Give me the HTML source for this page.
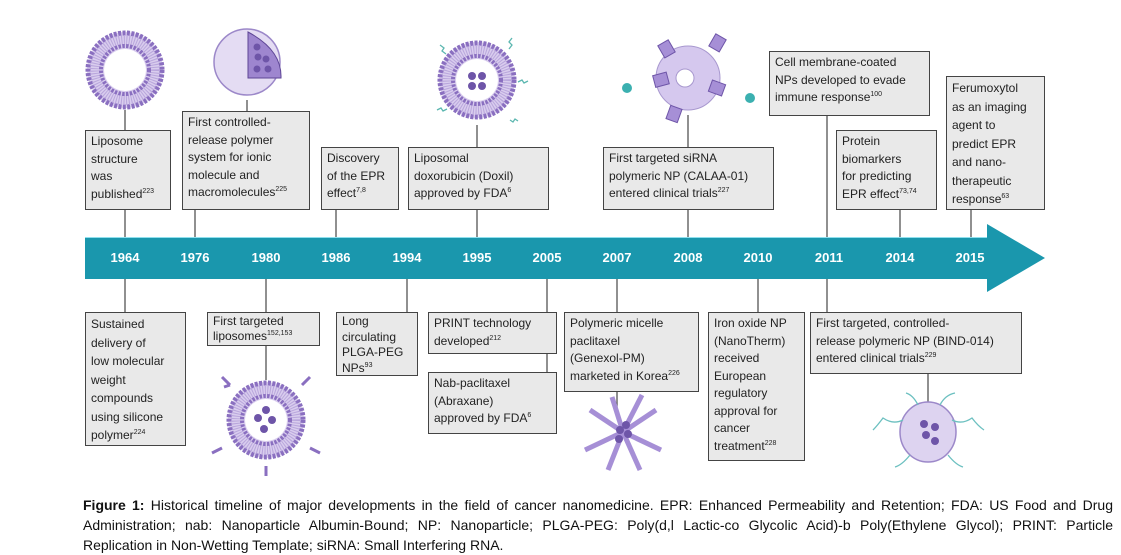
<!DOCTYPE html>
<html><head><meta charset="utf-8"><style>
body{margin:0;width:1121px;height:555px;background:#fff;position:relative;overflow:hidden;font-family:"Liberation Sans",sans-serif}
.b{position:absolute;box-sizing:border-box;background:#e9e9e9;border:1.5px solid #444;font-size:12px;line-height:17.5px;color:#222;padding:2px 5px;white-space:nowrap}
sup{font-size:7px;line-height:0}
.y{position:absolute;top:250px;color:#fff;font-weight:bold;font-size:13px;width:50px;text-align:center;margin-left:-25px}
.cap{position:absolute;left:83px;top:495px;width:1030px;font-size:14px;line-height:20px;color:#111}
.cap div{text-align:justify;text-align-last:justify;white-space:nowrap}
.cap div.l{text-align-last:left}
</style></head><body>
<svg width="1121" height="555" style="position:absolute;left:0;top:0">
<defs>
<g id="lipo">
<circle r="38" fill="#d9cdee"/>
<circle r="37" fill="none" stroke="#8a6fc0" stroke-width="5" stroke-dasharray="3 1.4"/>
<circle r="30" fill="none" stroke="#b9a6dc" stroke-width="10" stroke-dasharray="1 1.5"/>
<circle r="24" fill="none" stroke="#8a6fc0" stroke-width="4" stroke-dasharray="2.5 1.3"/>
<circle r="21" fill="#fff"/>
</g>
</defs>
<g stroke="#555" stroke-width="1.3">
<line x1="125" y1="110" x2="125" y2="237"/><line x1="195" y1="209" x2="195" y2="237"/><line x1="247" y1="100" x2="247" y2="111"/>
<line x1="336" y1="209" x2="336" y2="237"/><line x1="477" y1="125" x2="477" y2="237"/><line x1="688" y1="115" x2="688" y2="237"/>
<line x1="827" y1="115" x2="827" y2="237"/><line x1="900" y1="209" x2="900" y2="237"/><line x1="971" y1="209" x2="971" y2="237"/>
<line x1="125" y1="279" x2="125" y2="312"/><line x1="266" y1="279" x2="266" y2="380"/><line x1="407" y1="279" x2="407" y2="312"/>
<line x1="547" y1="279" x2="547" y2="372"/><line x1="617" y1="279" x2="617" y2="410"/><line x1="758" y1="279" x2="758" y2="312"/>
<line x1="827" y1="279" x2="827" y2="312"/><line x1="928" y1="373" x2="928" y2="404"/>
</g>
<polygon points="85,237 987,237 987,224 1045,258 987,292 987,279 85,279" fill="#1a97ad"/>
<line x1="85" y1="237.5" x2="987" y2="237.5" stroke="#8fe0ee" stroke-width="1"/>
<use href="#lipo" x="125" y="70"/>
<circle cx="247" cy="62" r="33" fill="#e4dcf3" stroke="#9c88c9" stroke-width="1.5"/>
<path d="M248,32 L248,78 L281,78 Q282,50 248,32Z" fill="#9e86cf" stroke="#5e4696"/>
<g fill="#6e55a8"><circle cx="257" cy="47" r="3.5"/><circle cx="258" cy="57" r="3.5"/><circle cx="266" cy="59" r="3.5"/><circle cx="257" cy="69" r="3.5"/><circle cx="268" cy="69" r="3.5"/></g>
<use href="#lipo" x="477" y="80"/>
<g fill="#6e55a8"><circle cx="472" cy="76" r="4"/><circle cx="482" cy="76" r="4"/><circle cx="472" cy="86" r="4"/><circle cx="482" cy="86" r="4"/></g>
<g stroke="#5cb7b0" fill="none" stroke-width="1.3"><path d="M440,45 l4,3 l-2,3 l4,3"/><path d="M512,38 l-3,4 l3,3 l-3,4"/><path d="M518,82 l4,-2 l2,3 l4,-2"/><path d="M437,110 l4,-2 l2,3 l4,-2"/><path d="M510,120 l3,2 l2,-3 l3,2"/></g>
<circle cx="688" cy="78" r="32" fill="#d5c8ee" stroke="#a898cf"/>
<circle cx="685" cy="78" r="9" fill="#fff" stroke="#a898cf"/>
<g fill="#a68fd6" stroke="#6e55a8"><rect x="654" y="74" width="14" height="12" transform="rotate(-15 660 80)"/><rect x="710" y="82" width="14" height="12" transform="rotate(20 717 88)"/><rect x="660" y="42" width="12" height="14" transform="rotate(-30 666 48)"/><rect x="712" y="36" width="12" height="14" transform="rotate(30 718 42)"/><rect x="668" y="107" width="12" height="14" transform="rotate(20 674 114)"/></g>
<g fill="#3bb0b0"><circle cx="627" cy="88" r="5"/><circle cx="750" cy="98" r="5"/></g>
<use href="#lipo" x="266" y="420"/>
<g fill="#6e55a8"><circle cx="266" cy="410" r="4"/><circle cx="258" cy="418" r="4"/><circle cx="272" cy="420" r="4"/><circle cx="264" cy="429" r="4"/></g>
<g stroke="#8a6fc0" stroke-width="3" fill="none"><path d="M230,385 l-8,-8 m8,8 l-6,2"/><path d="M302,385 l8,-8"/><path d="M222,448 l-10,5"/><path d="M310,448 l10,5"/><path d="M266,466 l0,10"/></g>
<g stroke="#a68fd6" stroke-width="5"><line x1="623" y1="432" x2="590" y2="410"/><line x1="623" y1="432" x2="656" y2="410"/><line x1="623" y1="432" x2="585" y2="450"/><line x1="623" y1="432" x2="661" y2="450"/><line x1="623" y1="432" x2="608" y2="470"/><line x1="623" y1="432" x2="640" y2="470"/><line x1="623" y1="432" x2="612" y2="397"/><line x1="623" y1="432" x2="642" y2="395"/></g>
<g fill="#6e55a8"><circle cx="620" cy="430" r="4"/><circle cx="628" cy="434" r="4"/><circle cx="619" cy="439" r="4"/><circle cx="626" cy="425" r="4"/></g>
<ellipse cx="928" cy="432" rx="28" ry="30" fill="#ddd3f0" stroke="#9c88c9" stroke-width="1.5"/>
<g fill="#6e55a8"><circle cx="924" cy="424" r="4"/><circle cx="935" cy="427" r="4"/><circle cx="926" cy="435" r="4"/><circle cx="935" cy="441" r="4"/></g>
<g stroke="#6cc0c0" fill="none" stroke-width="1.3"><path d="M903,420 q-10,5 -20,-2 q-6,8 -10,12"/><path d="M952,420 q10,5 20,-2 q6,8 12,12"/><path d="M910,455 q-8,10 -15,12"/><path d="M948,455 q8,10 15,12"/><path d="M918,405 q-5,-10 -12,-12"/><path d="M940,405 q5,-10 15,-12"/></g>
</svg>
<div class="b" style="left:85px;top:130px;width:86px;height:80px">Liposome<br>structure<br>was<br>published<sup>223</sup></div>
<div class="b" style="left:182px;top:111px;width:128px;height:99px">First controlled-<br>release polymer<br>system for ionic<br>molecule and<br>macromolecules<sup>225</sup></div>
<div class="b" style="left:321px;top:147px;width:78px;height:63px">Discovery<br>of the EPR<br>effect<sup>7,8</sup></div>
<div class="b" style="left:408px;top:147px;width:141px;height:63px">Liposomal<br>doxorubicin (Doxil)<br>approved by FDA<sup>6</sup></div>
<div class="b" style="left:603px;top:147px;width:171px;height:63px">First targeted siRNA<br>polymeric NP (CALAA-01)<br>entered clinical trials<sup>227</sup></div>
<div class="b" style="left:769px;top:51px;width:161px;height:65px">Cell membrane-coated<br>NPs developed to evade<br>immune response<sup>100</sup></div>
<div class="b" style="left:836px;top:130px;width:101px;height:80px">Protein<br>biomarkers<br>for predicting<br>EPR effect<sup>73,74</sup></div>
<div class="b" style="left:946px;top:76px;width:99px;height:134px;line-height:18.5px">Ferumoxytol<br>as an imaging<br>agent to<br>predict EPR<br>and nano-<br>therapeutic<br>response<sup>63</sup></div>
<div class="b" style="left:85px;top:312px;width:101px;height:134px;line-height:18.5px">Sustained<br>delivery of<br>low molecular<br>weight<br>compounds<br>using silicone<br>polymer<sup>224</sup></div>
<div class="b" style="left:207px;top:312px;width:113px;height:34px;line-height:14.5px;padding-top:1px">First targeted<br>liposomes<sup>152,153</sup></div>
<div class="b" style="left:336px;top:312px;width:82px;height:64px;line-height:15.5px;padding-top:1px">Long<br>circulating<br>PLGA-PEG<br>NPs<sup>93</sup></div>
<div class="b" style="left:428px;top:312px;width:129px;height:42px">PRINT technology<br>developed<sup>212</sup></div>
<div class="b" style="left:428px;top:372px;width:129px;height:62px">Nab-paclitaxel<br>(Abraxane)<br>approved by FDA<sup>6</sup></div>
<div class="b" style="left:564px;top:312px;width:135px;height:80px">Polymeric micelle<br>paclitaxel<br>(Genexol-PM)<br>marketed in Korea<sup>226</sup></div>
<div class="b" style="left:708px;top:312px;width:97px;height:149px">Iron oxide NP<br>(NanoTherm)<br>received<br>European<br>regulatory<br>approval for<br>cancer<br>treatment<sup>228</sup></div>
<div class="b" style="left:810px;top:312px;width:212px;height:62px">First targeted, controlled-<br>release polymeric NP (BIND-014)<br>entered clinical trials<sup>229</sup></div>
<div class="y" style="left:125px">1964</div><div class="y" style="left:195px">1976</div><div class="y" style="left:266px">1980</div><div class="y" style="left:336px">1986</div><div class="y" style="left:407px">1994</div><div class="y" style="left:477px">1995</div><div class="y" style="left:547px">2005</div><div class="y" style="left:617px">2007</div><div class="y" style="left:688px">2008</div><div class="y" style="left:758px">2010</div><div class="y" style="left:829px">2011</div><div class="y" style="left:900px">2014</div><div class="y" style="left:970px">2015</div>
<div class="cap"><div><b>Figure 1:</b> Historical timeline of major developments in the field of cancer nanomedicine. EPR: Enhanced Permeability and Retention; FDA: US Food and Drug</div><div>Administration; nab: Nanoparticle Albumin-Bound; NP: Nanoparticle; PLGA-PEG: Poly(d,l Lactic-co Glycolic Acid)-b Poly(Ethylene Glycol); PRINT: Particle</div><div class="l">Replication in Non-Wetting Template; siRNA: Small Interfering RNA.</div></div>
</body></html>
